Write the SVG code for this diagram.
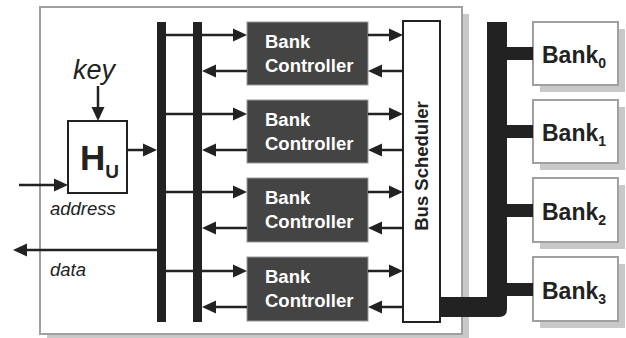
<svg xmlns="http://www.w3.org/2000/svg" width="626" height="338" viewBox="0 0 626 338">
  <style>
    .shadow { fill: #c8c8c8; }
    .frame { fill: #ffffff; stroke: #a0a0a0; stroke-width: 2; }
    .bar { fill: #222222; }
    .ctrl { fill: #444444; stroke: #999999; stroke-width: 1; }
    .ctrl-text { font-family: "Liberation Sans", Arial, sans-serif; font-weight: bold; font-size: 18.5px; fill: #ffffff; }
    .bank-text { font-family: "Liberation Sans", Arial, sans-serif; font-weight: bold; font-size: 23px; fill: #222222; }
    .sub { font-size: 14px; }
    .label { font-family: "Liberation Sans", Arial, sans-serif; font-style: italic; font-size: 18.5px; fill: #222222; }
    .key { font-size: 27px; }
    .wire { fill: none; stroke: #222222; stroke-width: 2.5; marker-end: url(#head); }
  </style>
  <defs>
    <marker id="head" markerUnits="userSpaceOnUse" markerWidth="14" markerHeight="13" refX="0" refY="6.5" orient="auto" overflow="visible">
      <path d="M0,0 L14,6.5 L0,13 Z" fill="#222222"/>
    </marker>
  </defs>

  <!-- outer module -->
  <g id="module">
    <rect class="shadow" x="47" y="14" width="422" height="327"/>
    <rect class="frame" x="40" y="7" width="422" height="327"/>
  </g>

  <!-- memory banks -->
  <g id="bank0">
    <rect class="shadow" x="540" y="29" width="85" height="63"/>
    <rect class="frame" x="533" y="22" width="85" height="63"/>
    <text class="bank-text" x="542" y="63">Bank<tspan class="sub" dy="5">0</tspan></text>
  </g>
  <g id="bank1">
    <rect class="shadow" x="540" y="107" width="85" height="63"/>
    <rect class="frame" x="533" y="100" width="85" height="63"/>
    <text class="bank-text" x="542" y="141">Bank<tspan class="sub" dy="5">1</tspan></text>
  </g>
  <g id="bank2">
    <rect class="shadow" x="540" y="185" width="85" height="64"/>
    <rect class="frame" x="533" y="178" width="85" height="64"/>
    <text class="bank-text" x="542" y="220">Bank<tspan class="sub" dy="5">2</tspan></text>
  </g>
  <g id="bank3">
    <rect class="shadow" x="540" y="264" width="85" height="64"/>
    <rect class="frame" x="533" y="257" width="85" height="64"/>
    <text class="bank-text" x="542" y="299">Bank<tspan class="sub" dy="5">3</tspan></text>
  </g>

  <!-- hash unit -->
  <g id="hash-unit">
    <rect x="68" y="121" width="59" height="72" fill="#ffffff" stroke="#222222" stroke-width="2"/>
    <text x="80" y="170" font-family="Liberation Sans, Arial, sans-serif" font-weight="bold" font-size="35" fill="#222222">H<tspan font-size="19" dy="8">U</tspan></text>
  </g>

  <!-- vertical buses -->
  <g id="request-bus">
    <rect class="bar" x="157" y="22" width="9" height="300"/>
  </g>
  <g id="response-bus">
    <rect class="bar" x="193" y="22" width="9" height="300"/>
  </g>

  <!-- bank controllers -->
  <g id="controller0">
    <rect class="ctrl" x="247" y="22" width="121" height="63"/>
    <text class="ctrl-text" x="265" y="48">Bank</text>
    <text class="ctrl-text" x="265" y="72">Controller</text>
  </g>
  <g id="controller1">
    <rect class="ctrl" x="247" y="100" width="121" height="63"/>
    <text class="ctrl-text" x="265" y="126">Bank</text>
    <text class="ctrl-text" x="265" y="150">Controller</text>
  </g>
  <g id="controller2">
    <rect class="ctrl" x="247" y="178" width="121" height="64"/>
    <text class="ctrl-text" x="265" y="204">Bank</text>
    <text class="ctrl-text" x="265" y="228">Controller</text>
  </g>
  <g id="controller3">
    <rect class="ctrl" x="247" y="257" width="121" height="64"/>
    <text class="ctrl-text" x="265" y="283">Bank</text>
    <text class="ctrl-text" x="265" y="307">Controller</text>
  </g>

  <!-- bus scheduler -->
  <g id="bus-scheduler">
    <rect x="403" y="21" width="37" height="301" fill="#ffffff" stroke="#222222" stroke-width="2"/>
    <text transform="translate(428,166) rotate(-90)" text-anchor="middle" font-family="Liberation Sans, Arial, sans-serif" font-weight="bold" font-size="18.5" fill="#222222">Bus Scheduler</text>
  </g>

  <!-- connectors -->
  <g id="connectors">
    <!-- memory bus -->
    <path class="bar" d="M440,297 H487 V22 H507 V309 Q507,317 499,317 H440 Z"/>
    <rect class="bar" x="507" y="47" width="26" height="13"/>
    <rect class="bar" x="507" y="125" width="26" height="13"/>
    <rect class="bar" x="507" y="204" width="26" height="13"/>
    <rect class="bar" x="507" y="283" width="26" height="13"/>

    <!-- inputs and outputs -->
    <path class="wire" d="M98,86 V107"/>
    <path class="wire" d="M19,185 H54"/>
    <path class="wire" d="M127,150 H143"/>
    <path class="wire" d="M157,250 H27"/>

    <!-- controller 0 -->
    <path class="wire" d="M166,35 H233"/>
    <path class="wire" d="M247,71 H216"/>
    <path class="wire" d="M368,35 H389"/>
    <path class="wire" d="M403,71 H382"/>
    <!-- controller 1 -->
    <path class="wire" d="M166,114 H233"/>
    <path class="wire" d="M247,150 H216"/>
    <path class="wire" d="M368,114 H389"/>
    <path class="wire" d="M403,150 H382"/>
    <!-- controller 2 -->
    <path class="wire" d="M166,192 H233"/>
    <path class="wire" d="M247,228 H216"/>
    <path class="wire" d="M368,192 H389"/>
    <path class="wire" d="M403,228 H382"/>
    <!-- controller 3 -->
    <path class="wire" d="M166,271 H233"/>
    <path class="wire" d="M247,307 H216"/>
    <path class="wire" d="M368,271 H389"/>
    <path class="wire" d="M403,307 H382"/>
  </g>

  <!-- labels -->
  <g id="labels">
    <text class="label key" x="73" y="79">key</text>
    <text class="label" x="50" y="215">address</text>
    <text class="label" x="50" y="276">data</text>
  </g>
</svg>
